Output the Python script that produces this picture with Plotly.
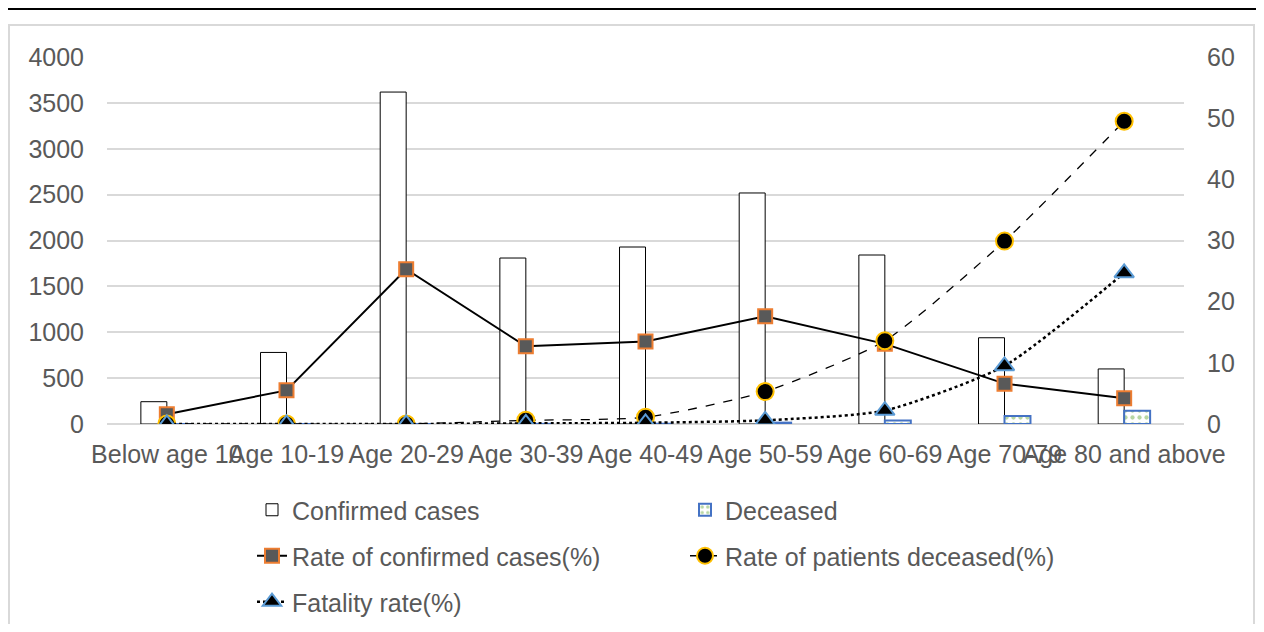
import plotly.graph_objects as go

categories = ["Below age 10", "Age 10-19", "Age 20-29", "Age 30-39", "Age 40-49",
              "Age 50-59", "Age 60-69", "Age 70-79", "Age 80 and above"]
confirmed_cases = [243, 780, 3618, 1809, 1929, 2518, 1842, 940, 600]
deceased = [0, 0, 0, 2, 3, 15, 39, 88, 144]
rate_confirmed = [1.6, 5.5, 25.3, 12.7, 13.5, 17.6, 13.1, 6.6, 4.2]
rate_deceased = [0, 0, 0, 0.6, 1.1, 5.3, 13.6, 29.9, 49.5]
fatality_rate = [0, 0, 0, 0.1, 0.2, 0.6, 2.2, 9.5, 24.7]

FONT = "Liberation Sans, Arial, sans-serif"
GREY = "#595959"

fig = go.Figure()
fig.add_trace(go.Bar(
    x=categories, y=confirmed_cases, name="Confirmed cases", legend="legend",
    marker=dict(color="white", line=dict(color="black", width=1)),
))
fig.add_trace(go.Bar(
    x=categories, y=deceased, name="Deceased", legend="legend",
    marker=dict(color="white", line=dict(color="#4472C4", width=2),
                pattern=dict(shape=".", fgcolor="#70AD47", bgcolor="white",
                             size=7, solidity=0.3)),
))
fig.add_trace(go.Scatter(
    x=categories, y=rate_confirmed, name="Rate of confirmed cases(%)", yaxis="y2",
    legend="legend2",
    mode="lines+markers", line=dict(color="black", width=2),
    marker=dict(symbol="square", size=14, color="#595959",
                line=dict(color="#ED7D31", width=2)),
))
fig.add_trace(go.Scatter(
    x=categories, y=rate_deceased, name="Rate of patients deceased(%)", yaxis="y2",
    legend="legend2",
    mode="lines+markers", line=dict(color="black", width=1.3, dash="dash",
                                    shape="spline", smoothing=0.6),
    marker=dict(symbol="circle", size=17, color="black",
                line=dict(color="#FFC000", width=2)),
))
fig.add_trace(go.Scatter(
    x=categories, y=fatality_rate, name="Fatality rate(%)", yaxis="y2",
    legend="legend3",
    mode="lines+markers", line=dict(color="black", width=2.5, dash="dot",
                                    shape="spline", smoothing=0.6),
    marker=dict(symbol="triangle-up", size=17, color="black",
                line=dict(color="#5B9BD5", width=2)),
))

# page body has an 8px margin; figure is sized to fit inside the window
W, H = 1256, 616
PL, PR, PT, PB = 107, 1184, 57, 424  # plot area in page pixels
L, T = PL - 8, PT - 8
R, B = W - (PR - 8), H - (PB - 8)

def px_x(x):
    return (x - PL) / (PR - PL)

def px_y(y):
    return (PB - y) / (PB - PT)

def legend_row(ypage):
    return dict(orientation="h", x=px_x(252), xanchor="left", y=px_y(ypage),
                yanchor="middle", entrywidth=388, entrywidthmode="pixels",
                font=dict(size=25, color=GREY), traceorder="normal",
                bgcolor="rgba(0,0,0,0)")

fig.update_layout(
    width=W, height=H,
    margin=dict(l=L, r=R, t=T, b=B, autoexpand=False),
    paper_bgcolor="white", plot_bgcolor="white",
    font=dict(family=FONT, size=25, color=GREY),
    barmode="group", bargap=0.566, bargroupgap=0,
    showlegend=True,
    xaxis=dict(tickangle=0, showgrid=False, showline=False, ticks="",
               range=[-0.5, len(categories) - 0.5],
               tickfont=dict(size=25, color=GREY), ticklabelstandoff=13),
    yaxis=dict(range=[0, 4000], dtick=500, showgrid=True, gridcolor="#D9D9D9",
               gridwidth=1.5, zeroline=True, zerolinecolor="#D9D9D9", zerolinewidth=1.5,
               showline=False, ticks="", tickfont=dict(size=25, color=GREY),
               ticklabelstandoff=22),
    yaxis2=dict(range=[0, 60], dtick=10, overlaying="y", side="right",
                showgrid=False, zeroline=False, showline=False, ticks="",
                tickfont=dict(size=25, color=GREY), ticklabelstandoff=22),
    legend=legend_row(510),
    legend2=legend_row(556),
    legend3=legend_row(602),
    shapes=[
        dict(type="line", xref="paper", yref="paper", x0=px_x(0), x1=px_x(1270),
             y0=px_y(9), y1=px_y(9), line=dict(color="black", width=2)),
        dict(type="rect", xref="paper", yref="paper", x0=px_x(9), x1=px_x(1254),
             y0=px_y(660), y1=px_y(25), line=dict(color="#D9D9D9", width=2),
             layer="below"),
    ],
)

fig.write_html("out.html")
